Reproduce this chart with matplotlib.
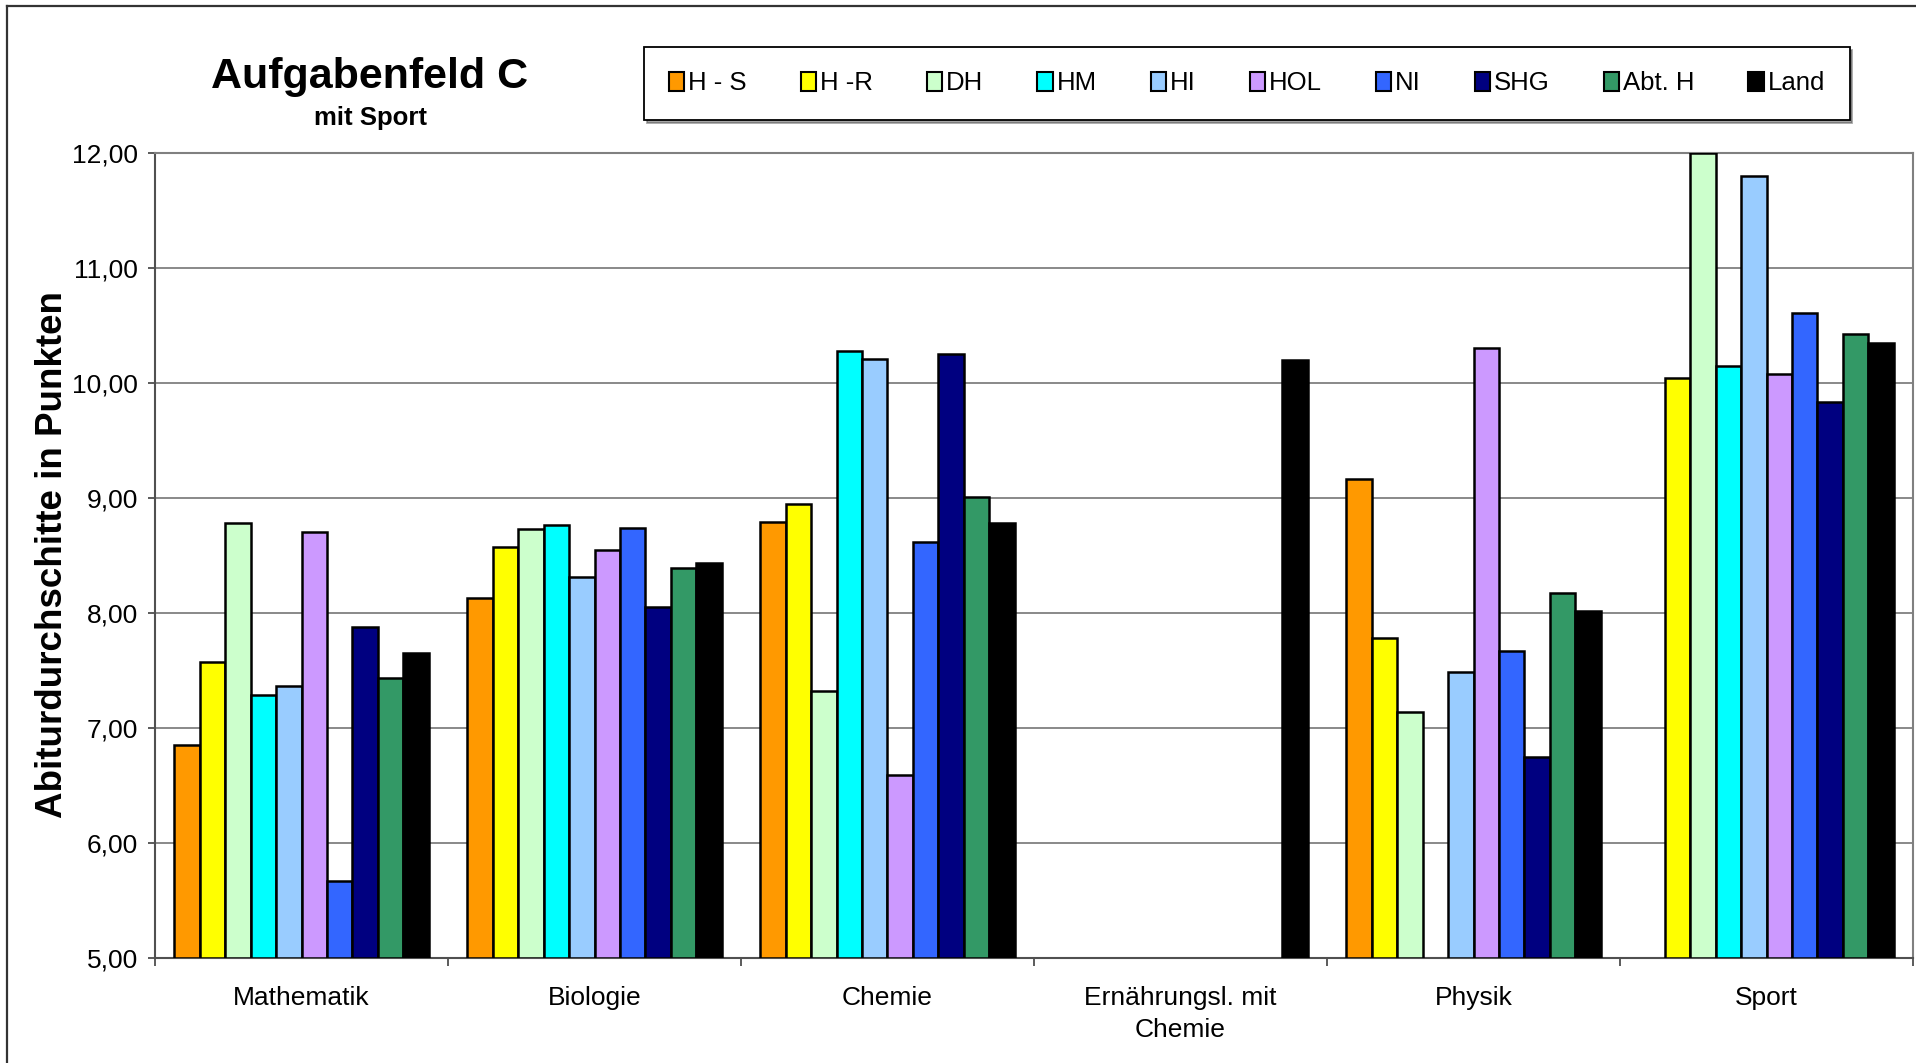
import numpy as np
import matplotlib
matplotlib.use("Agg")
import matplotlib.pyplot as plt
from matplotlib.lines import Line2D
from matplotlib.ticker import FixedLocator, FuncFormatter

plt.rcParams['font.family'] = ['Liberation Sans', 'DejaVu Sans']

categories = ["Mathematik", "Biologie", "Chemie", "Ernährungsl. mit\nChemie", "Physik", "Sport"]
series = ["H - S", "H -R", "DH", "HM", "HI", "HOL", "NI", "SHG", "Abt. H", "Land"]
nan = np.nan
values = {
    "H - S":  [6.85, 8.13, 8.79, nan, 9.16, nan],
    "H -R":   [7.57, 8.57, 8.95, nan, 7.78, 10.04],
    "DH":     [8.78, 8.73, 7.32, nan, 7.14, 12.00],
    "HM":     [7.29, 8.76, 10.28, nan, nan, 10.15],
    "HI":     [7.36, 8.31, 10.21, nan, 7.49, 11.80],
    "HOL":    [8.70, 8.55, 6.59, nan, 10.30, 10.08],
    "NI":     [5.67, 8.74, 8.62, nan, 7.67, 10.61],
    "SHG":    [7.88, 8.05, 10.25, nan, 6.75, 9.83],
    "Abt. H": [7.43, 8.39, 9.01, nan, 8.17, 10.42],
    "Land":   [7.65, 8.43, 8.78, 10.20, 8.02, 10.35],
}
colors = ["#FF9900", "#FFFF00", "#CCFFCC", "#00FFFF", "#99CCFF",
          "#CC99FF", "#3366FF", "#000080", "#339966", "#000000"]
yticks = [5, 6, 7, 8, 9, 10, 11, 12]

W, H = 1916, 1063
fig = plt.figure(figsize=(W / 100, H / 100), dpi=100)
ax = fig.add_axes([155 / W, 1 - 958 / H, (1913 - 155) / W, (958 - 152.7) / H])

x = np.arange(len(categories))
group = 0.87
bw = group / len(series)
handles = []
for i, (name, col) in enumerate(zip(series, colors)):
    v = np.array(values[name], dtype=float)
    bars = ax.bar(x + (i - (len(series) - 1) / 2) * bw, v - 5, bottom=5, width=bw,
                  color=col, edgecolor="black", linewidth=1.8, label=name, zorder=3)
    handles.append(bars)

ax.set_xlim(-0.5, len(categories) - 0.5)
ax.set_ylim(5, 12)
ax.set_yticks(yticks)
ax.yaxis.set_major_formatter(FuncFormatter(lambda v, p: f"{v:.2f}".replace(".", ",")))
ax.grid(axis="y", color="#808080", linewidth=1.3, zorder=0)
ax.set_axisbelow(True)

ax.set_xticks(x)
ax.set_xticklabels(categories, fontsize=19, linespacing=1.4)
ax.xaxis.set_minor_locator(FixedLocator(np.arange(-0.5, len(categories), 1.0)))
ax.tick_params(axis="x", which="major", length=0, pad=20.5)
ax.tick_params(axis="x", which="minor", length=6, width=1.2, color="#404040", direction="out")
ax.tick_params(axis="y", length=5, width=1.2, color="#404040", labelsize=19, pad=7)

for s in ["top", "right"]:
    ax.spines[s].set_color("#808080")
    ax.spines[s].set_linewidth(1.5)
for s in ["left", "bottom"]:
    ax.spines[s].set_color("#505050")
    ax.spines[s].set_linewidth(1.5)

fig.text(53 / W, 1 - 555 / H, "Abiturdurchschitte in Punkten", rotation=90,
         ha="center", va="center", fontsize=26.5, fontweight="bold")

fig.text(370 / W, 1 - 77 / H, "Aufgabenfeld C", ha="center", va="center",
         fontsize=31, fontweight="bold")
fig.text(370 / W, 1 - 118 / H, "mit Sport", ha="center", va="center",
         fontsize=18.5, fontweight="bold")

leg = fig.legend(handles=handles, labels=series, ncol=10, loc="center",
                 bbox_to_anchor=((640 + 1854) / 2 / W, 1 - 83.5 / H),
                 fontsize=18.5, frameon=True, fancybox=False, shadow=True,
                 handlelength=0.6, handleheight=0.75, handletextpad=0.15,
                 columnspacing=2.1, borderpad=0.95)
leg.get_frame().set_edgecolor("black")
leg.get_frame().set_linewidth(1.3)
for h in leg.legend_handles:
    h.set_linewidth(1.5)

fig.add_artist(Line2D([7 / W, 7 / W], [0, 1 - 6 / H], transform=fig.transFigure,
                      color="#333333", linewidth=1.6))
fig.add_artist(Line2D([7 / W, 1], [1 - 6 / H, 1 - 6 / H], transform=fig.transFigure,
                      color="#333333", linewidth=1.6))

fig.savefig("out.png", dpi=100)
